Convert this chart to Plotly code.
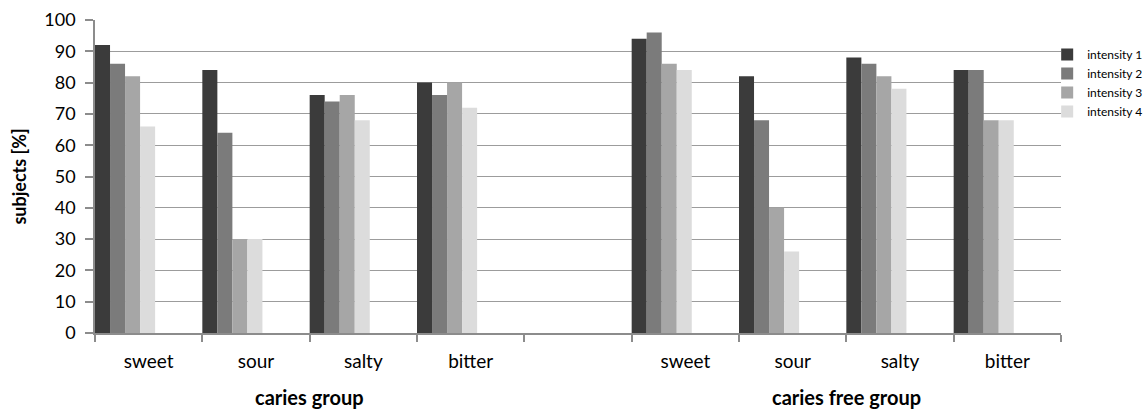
import plotly.graph_objects as go

categories = ["sweet", "sour", "salty", "bitter", "", "sweet", "sour", "salty", "bitter"]
series_names = ["intensity 1", "intensity 2", "intensity 3", "intensity 4"]
intensity1 = [92, 84, 76, 80, None, 94, 82, 88, 84]
intensity2 = [86, 64, 74, 76, None, 96, 68, 86, 84]
intensity3 = [82, 30, 76, 80, None, 86, 40, 82, 68]
intensity4 = [66, 30, 68, 72, None, 84, 26, 78, 68]
group_labels = ["caries group", "caries free group"]
group_centers = [1.5, 6.5]
y_ticks = [0, 10, 20, 30, 40, 50, 60, 70, 80, 90, 100]

series = [intensity1, intensity2, intensity3, intensity4]
colors = ["#3b3b3b", "#7b7b7b", "#a6a6a6", "#dcdcdc"]
positions = list(range(len(categories)))
bar_w = 0.14

FONT = "Lato"
fig = go.Figure()
for k, (name, vals, col) in enumerate(zip(series_names, series, colors)):
    fig.add_trace(go.Bar(
        x=positions, y=vals, name=name,
        marker=dict(color=col, line=dict(width=0)),
        width=bar_w, offset=-0.5 + k * bar_w,
        legendgroup=name,
    ))

for lab, cx in zip(group_labels, group_centers):
    fig.add_annotation(x=cx, xref="x", y=-0.203, yref="paper", yanchor="middle",
                       text=f"<b>{lab}</b>", showarrow=False,
                       font=dict(family=FONT, size=20, color="#000"))

fig.update_layout(
    width=1146, height=410,
    margin=dict(l=95, r=85, t=20, b=77, autoexpand=False),
    paper_bgcolor="white", plot_bgcolor="white",
    barmode="overlay",
    font=dict(family=FONT, color="#000"),
    legend=dict(x=0.9857, xanchor="left", y=0.9365, yanchor="top",
                bgcolor="rgba(0,0,0,0)", font=dict(family=FONT, size=12),
                tracegroupgap=0),
    showlegend=True,
)
fig.update_xaxes(
    range=[-0.5, 8.5], tickmode="array", tickvals=positions, ticktext=categories,
    ticks="", showgrid=False, showline=True, linecolor="#8c8c8c", linewidth=1.5,
    tickfont=dict(family=FONT, size=19), ticklabelstandoff=10, zeroline=False,
    minor=dict(tick0=-0.5, dtick=1, ticks="outside", ticklen=7, tickcolor="#8c8c8c",
               tickwidth=1.5, showgrid=False),
)
fig.update_yaxes(
    range=[0, 100], tickmode="array", tickvals=y_ticks,
    showgrid=True, gridcolor="#9c9c9c", gridwidth=1.2,
    showline=True, linecolor="#8c8c8c", linewidth=1.5,
    ticks="outside", ticklen=8, tickcolor="#8c8c8c", tickwidth=1.5,
    tickfont=dict(family=FONT, size=18), ticklabelstandoff=6, zeroline=False,
    title=dict(text="<b>subjects [%]</b>", font=dict(family=FONT, size=18), standoff=13),
)
fig.write_html("out.html", config={"displayModeBar": False},
               post_script="document.body.style.margin='0';")
